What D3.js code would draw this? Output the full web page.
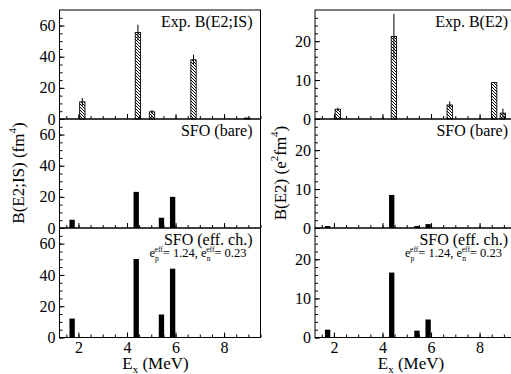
<!DOCTYPE html>
<html>
<head>
<meta charset="utf-8">
<script src="https://cdn.jsdelivr.net/npm/d3@7"></script>
<style>
  body { margin: 0; background: #fff; }
  text { font-family: "Liberation Serif", "DejaVu Serif", serif; fill: #000; }
</style>
</head>
<body>
<div id="chart"></div>
<script>
// experimental levels (MeV) and strengths
const isExpEnergy = [2.16, 4.45, 5.03, 6.74, 8.95];
const isExpValue  = [11.0, 55.5, 4.6, 38.0, 0.6];
const isExpError  = [2.5, 5.0, 1.2, 3.3, 0];

const e2ExpEnergy = [2.16, 4.47, 6.77, 8.60, 8.96];
const e2ExpValue  = [2.5, 21.2, 3.6, 9.35, 1.5];
const e2ExpError  = [0.4, 5.8, 0.9, 0, 1.2];

// SFO shell model levels
const thEnergy = [1.74, 4.38, 5.42, 5.88];
const isBare = [5.3, 23.2, 6.6, 20.0];
const isEff  = [12.1, 50.2, 14.7, 44.0];
const e2Bare = [0.5, 8.5, 0.5, 1.0];
const e2Eff  = [2.0, 16.6, 1.75, 4.6];

const xTicks = [2, 4, 6, 8];
const panelLabels = ["SFO (bare)", "SFO (eff. ch.)"];

const width = 511, height = 374;
const panelW = 201;
const rowY = [10, 119, 228, 337.5];
const barW = 0.22;
const serif = "Liberation Serif, serif";

const svg = d3.select("#chart").append("svg")
    .attr("width", width)
    .attr("height", height);

const defs = svg.append("defs");
defs.append("pattern")
    .attr("id", "hatch")
    .attr("patternUnits", "userSpaceOnUse")
    .attr("width", 3)
    .attr("height", 3)
    .call(p => {
        p.append("rect").attr("width", 3).attr("height", 3).attr("fill", "#fff");
        p.append("path")
            .attr("d", "M0,0L3,3M-1,2L1,4M2,-1L4,1")
            .attr("stroke", "#000")
            .attr("stroke-width", 1);
    });

function drawColumn(cfg) {
    const x = d3.scaleLinear().domain([1.22, 9.5]).range([cfg.x0, cfg.x0 + panelW]);
    const rows = [
        {exp: true, label: cfg.expLabel},
        {values: cfg.bare, label: panelLabels[0]},
        {values: cfg.eff, label: panelLabels[1], eff: true}
    ];

    rows.forEach((row, i) => {
        const top = rowY[i], bottom = rowY[i + 1];
        const y = d3.scaleLinear().domain(cfg.yDomain).range([bottom, top]);
        const g = svg.append("g");

        // bars
        if (row.exp) {
            const data = cfg.expE.map((e, k) => ({e: e, v: cfg.expV[k], err: cfg.expErr[k]}));
            g.selectAll("rect.bar").data(data).enter().append("rect")
                .attr("x", d => x(d.e - barW / 2))
                .attr("width", d => x(d.e + barW / 2) - x(d.e - barW / 2))
                .attr("y", d => y(d.v))
                .attr("height", d => y(0) - y(d.v))
                .attr("fill", "url(#hatch)")
                .attr("stroke", "#000")
                .attr("stroke-width", 0.9);
            g.selectAll("line.err").data(data.filter(d => d.err > 0)).enter().append("line")
                .attr("x1", d => x(d.e)).attr("x2", d => x(d.e))
                .attr("y1", d => y(d.v - d.err)).attr("y2", d => y(d.v + d.err))
                .attr("stroke", "#000").attr("stroke-width", 1);
        } else {
            g.selectAll("rect.bar").data(row.values).enter().append("rect")
                .attr("x", (d, k) => x(thEnergy[k] - barW / 2))
                .attr("width", (d, k) => x(thEnergy[k] + barW / 2) - x(thEnergy[k] - barW / 2))
                .attr("y", d => y(d))
                .attr("height", d => y(0) - y(d))
                .attr("fill", "#000");
        }

        // x axis ticks (inward)
        g.append("g")
            .attr("transform", `translate(0,${bottom})`)
            .call(d3.axisBottom(x).tickValues(d3.range(1.5, 9.51, 0.5)).tickSize(-3).tickFormat(""))
            .call(a => a.select(".domain").remove());
        const xa = g.append("g")
            .attr("transform", `translate(0,${bottom})`)
            .call(d3.axisBottom(x).tickValues(xTicks).tickSize(-5).tickPadding(3)
                .tickFormat(i === 2 ? d3.format("d") : ""));
        xa.select(".domain").remove();
        xa.selectAll("text").attr("font-size", 16).attr("dy", "0.75em")
            .style("font-family", serif);

        // y axis ticks (inward)
        g.append("g")
            .attr("transform", `translate(${cfg.x0},0)`)
            .call(d3.axisLeft(y).tickValues(cfg.yMinor).tickSize(-3).tickFormat(""))
            .call(a => a.select(".domain").remove());
        const ya = g.append("g")
            .attr("transform", `translate(${cfg.x0},0)`)
            .call(d3.axisLeft(y).tickValues(cfg.yMajor).tickSize(-5).tickPadding(4));
        ya.select(".domain").remove();
        ya.selectAll("text").attr("font-size", 16)
            .style("font-family", serif);

        // frame
        g.append("rect")
            .attr("x", cfg.x0).attr("y", top)
            .attr("width", panelW).attr("height", bottom - top)
            .attr("fill", "none").attr("stroke", "#000").attr("stroke-width", 1);

        // label
        g.append("text")
            .attr("x", cfg.x0 + panelW - 8)
            .attr("y", top + 16.5)
            .attr("text-anchor", "end")
            .attr("font-size", 16)
            .style("font-family", serif)
            .text(row.label);

        if (row.eff) {
            const t = g.append("text")
                .attr("x", cfg.x0 + 90)
                .attr("y", top + 29)
                .attr("font-size", 12.5)
                .style("font-family", serif);
            t.append("tspan").text("e");
            t.append("tspan").attr("font-size", 7.5).attr("dy", 3.5).text("p");
            t.append("tspan").attr("font-size", 7.5).attr("dx", -4.2).attr("dy", -8.5).text("eff");
            t.append("tspan").attr("dy", 5).text("= 1.24, e");
            t.append("tspan").attr("font-size", 7.5).attr("dy", 3.5).text("n");
            t.append("tspan").attr("font-size", 7.5).attr("dx", -4.2).attr("dy", -8.5).text("eff");
            t.append("tspan").attr("dy", 5).text("= 0.23");
        }
    });

    // axis titles
    const xt = svg.append("text")
        .attr("x", cfg.x0 + 96)
        .attr("y", 369)
        .attr("text-anchor", "middle")
        .attr("font-size", 17)
        .style("font-family", serif);
    xt.append("tspan").text("E");
    xt.append("tspan").attr("font-size", 11).attr("dy", 4).text("x");
    xt.append("tspan").attr("dy", -4).text(" (MeV)");

    const yt = svg.append("text")
        .attr("transform", `translate(${cfg.titleX},173) rotate(-90)`)
        .attr("text-anchor", "middle")
        .attr("font-size", 17)
        .style("font-family", serif);
    cfg.yTitle(yt);
}

drawColumn({
    x0: 59.5,
    yDomain: [0, 70], yMajor: [0, 20, 40, 60], yMinor: d3.range(0, 70, 5),
    expE: isExpEnergy, expV: isExpValue, expErr: isExpError,
    bare: isBare, eff: isEff,
    expLabel: "Exp. B(E2;IS)",
    titleX: 24,
    yTitle: t => {
        t.append("tspan").text("B(E2;IS) (fm");
        t.append("tspan").attr("font-size", 11).attr("dy", -8).text("4");
        t.append("tspan").attr("dy", 8).text(")");
    }
});

drawColumn({
    x0: 315,
    yDomain: [0, 28], yMajor: [0, 10, 20], yMinor: d3.range(0, 28, 2),
    expE: e2ExpEnergy, expV: e2ExpValue, expErr: e2ExpError,
    bare: e2Bare, eff: e2Eff,
    expLabel: "Exp. B(E2)",
    titleX: 286,
    yTitle: t => {
        t.append("tspan").text("B(E2) (e");
        t.append("tspan").attr("font-size", 11).attr("dy", -8).text("2");
        t.append("tspan").attr("dy", 8).text("fm");
        t.append("tspan").attr("font-size", 11).attr("dy", -8).text("4");
        t.append("tspan").attr("dy", 8).text(")");
    }
});
</script>
</body>
</html>
